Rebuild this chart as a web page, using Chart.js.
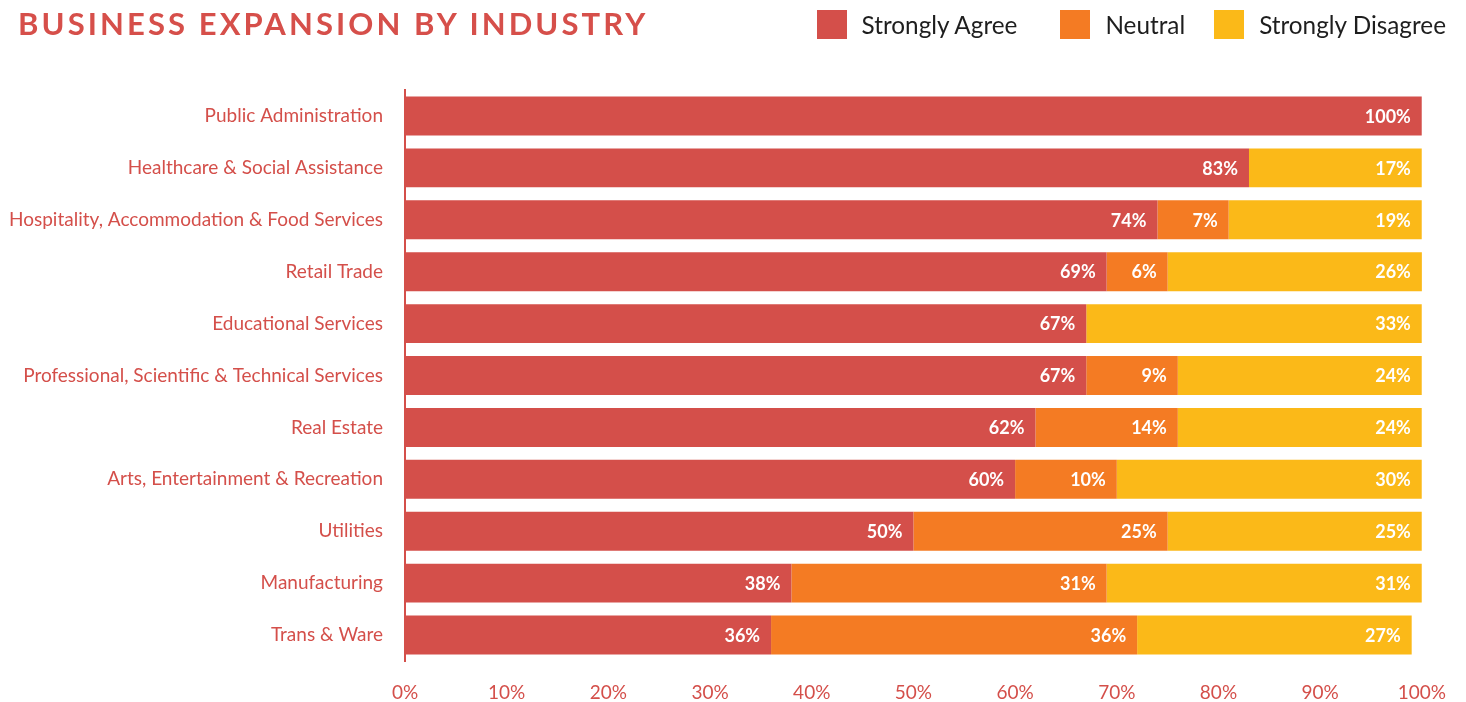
<!DOCTYPE html>
<html>
<head>
<meta charset="utf-8">
<script src="https://cdn.jsdelivr.net/npm/chart.js@4/dist/chart.umd.min.js"></script>
<style>
  html, body { margin: 0; padding: 0; background: #fff; }
  #wrap { position: relative; width: 1466px; height: 702px; }
  #chart { display: block; }
  #title {
    position: absolute; left: 18px; top: 4px;
    font-family: Lato, sans-serif; font-weight: 700; font-size: 31px;
    letter-spacing: 3.1px; color: #d64f4a; white-space: nowrap;
  }
  #legend {
    position: absolute; right: 20px; top: 10px;
    display: flex; align-items: center;
    font-family: Lato, sans-serif; font-size: 24.3px; color: #1e1e1e;
  }
  #legend .item { display: flex; align-items: center; }
  #legend .item:nth-child(2) { margin-left: 43px; }
  #legend .item:nth-child(3) { margin-left: 29px; }
  #legend .box { width: 30px; height: 29px; margin-right: 15px; }
</style>
</head>
<body>
<div id="wrap">
  <div id="title">BUSINESS EXPANSION BY INDUSTRY</div>
  <div id="legend"></div>
  <canvas id="chart" width="1466" height="702"></canvas>
</div>
<script>
// industries, top to bottom
const industries = [
  "Public Administration",
  "Healthcare & Social Assistance",
  "Hospitality, Accommodation & Food Services",
  "Retail Trade",
  "Educational Services",
  "Professional, Scientific & Technical Services",
  "Real Estate",
  "Arts, Entertainment & Recreation",
  "Utilities",
  "Manufacturing",
  "Trans & Ware"
];

// percentages for each answer
const stronglyAgree    = [100, 83, 74, 69, 67, 67, 62, 60, 50, 38, 36];
const neutral          = [0, 0, 7, 6, 0, 9, 14, 10, 25, 31, 36];
const stronglyDisagree = [0, 17, 19, 26, 33, 24, 24, 30, 25, 31, 27];

const xTicks = [0, 10, 20, 30, 40, 50, 60, 70, 80, 90, 100];

const RED = "#d44f4a";
const ORANGE = "#f47b23";
const YELLOW = "#fbb918";
const FONT = "Lato, 'Open Sans', sans-serif";

// white value text at the right end of each segment
const segmentLabels = {
  id: "segmentLabels",
  afterDatasetsDraw(chart) {
    const ctx = chart.ctx;
    ctx.save();
    ctx.font = "bold 18px " + FONT;
    ctx.fillStyle = "#fff";
    ctx.textAlign = "right";
    ctx.textBaseline = "middle";
    chart.data.datasets.forEach((ds, i) => {
      chart.getDatasetMeta(i).data.forEach((bar, j) => {
        const v = ds.data[j];
        if (!v) return;
        ctx.fillText(v + "%", Math.min(bar.x, chart.chartArea.right) - 11, bar.y + 1);
      });
    });
    ctx.restore();
  }
};

const chart = new Chart(document.getElementById("chart").getContext("2d"), {
  type: "bar",
  data: {
    labels: industries,
    datasets: [
      { label: "Strongly Agree", data: stronglyAgree, backgroundColor: RED },
      { label: "Neutral", data: neutral, backgroundColor: ORANGE },
      { label: "Strongly Disagree", data: stronglyDisagree, backgroundColor: YELLOW }
    ]
  },
  options: {
    indexAxis: "y",
    responsive: false,
    animation: false,
    layout: { padding: { left: 0, right: 19, top: 90, bottom: 0 } },
    datasets: { bar: { barPercentage: 0.75, categoryPercentage: 1, borderWidth: 0 } },
    scales: {
      x: {
        stacked: true,
        min: 0,
        max: 100,
        afterBuildTicks(axis) {
          axis.ticks = xTicks.map(v => ({ value: v }));
        },
        // fixed band for the percent labels under the bars
        afterFit(axis) {
          axis.height = 41;
        },
        grid: { display: false, drawTicks: false },
        border: { display: false },
        ticks: {
          color: RED,
          font: { family: FONT, size: 19 },
          padding: 20,
          maxRotation: 0,
          callback: v => v + "%"
        }
      },
      y: {
        stacked: true,
        // fixed column for the industry names
        afterFit(axis) {
          axis.width = 405;
        },
        grid: { display: false, drawTicks: false },
        border: { display: true, color: RED, width: 2 },
        ticks: {
          color: RED,
          font: { family: FONT, size: 19 },
          padding: 22
        }
      }
    },
    plugins: {
      legend: { display: false },
      tooltip: { enabled: false }
    }
  },
  plugins: [segmentLabels]
});

// legend row built from the datasets
const legendEl = document.getElementById("legend");
chart.data.datasets.forEach(ds => {
  const item = document.createElement("div");
  item.className = "item";
  const box = document.createElement("span");
  box.className = "box";
  box.style.background = ds.backgroundColor;
  item.appendChild(box);
  item.appendChild(document.createTextNode(ds.label));
  legendEl.appendChild(item);
});
</script>
</body>
</html>
